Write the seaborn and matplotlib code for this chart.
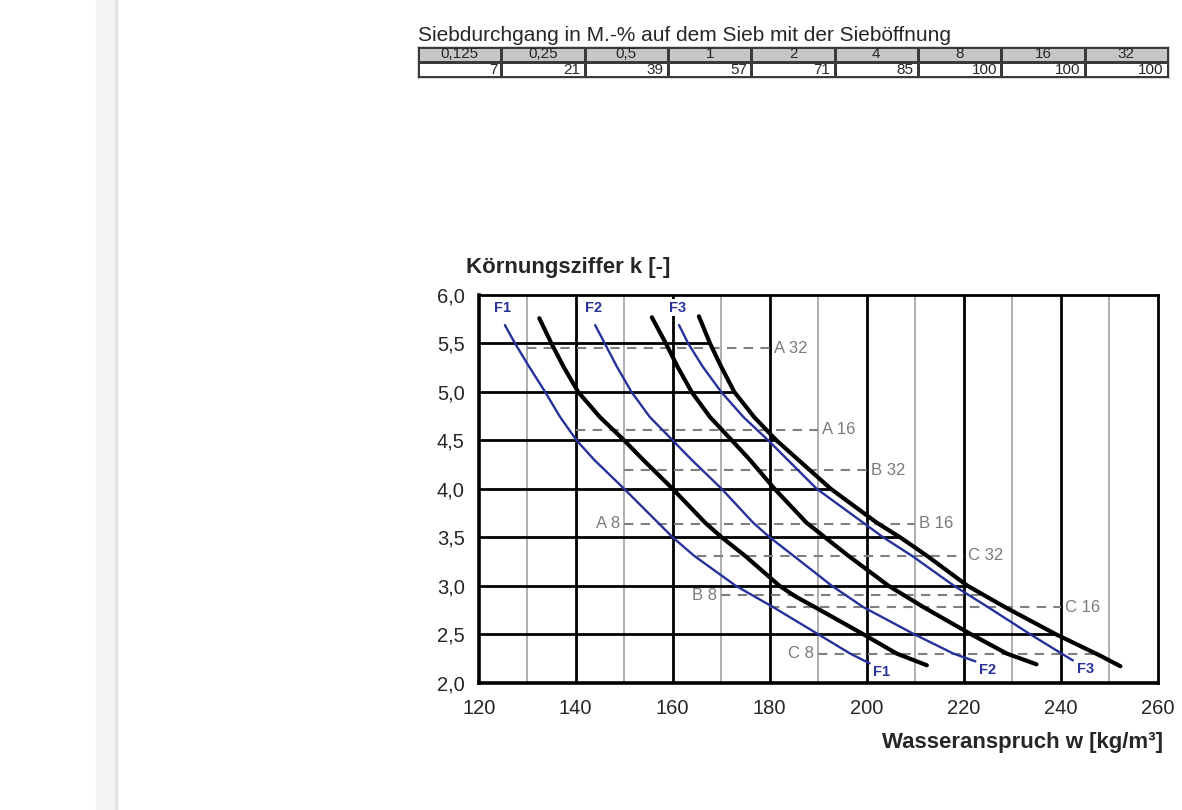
import numpy as np
import pandas as pd
import matplotlib
matplotlib.use("Agg")
import matplotlib.pyplot as plt
from matplotlib.colors import ListedColormap
from matplotlib.patches import Rectangle
from matplotlib.ticker import FuncFormatter
import seaborn as sns

# sieve table
sieve_sizes = ["0,125", "0,25", "0,5", "1", "2", "4", "8", "16", "32"]
passing = [7, 21, 39, 57, 71, 85, 100, 100, 100]

# water demand w [kg/m3] vs fineness modulus k
f1_w = [125.4, 127.5, 130.4, 133.7, 136.8, 140.2, 143.8, 150.0, 152.8, 160.0, 164.4, 173.0, 180.7, 190.0, 196.6, 200.6]
f1_k = [5.69, 5.5, 5.26, 5.0, 4.74, 4.5, 4.3, 4.0, 3.86, 3.5, 3.31, 3.0, 2.78, 2.5, 2.3, 2.2]
f2_w = [144.0, 146.0, 148.5, 151.5, 155.3, 160.0, 163.9, 170.1, 176.6, 180.0, 184.9, 192.8, 199.3, 209.8, 217.9, 222.4]
f2_k = [5.69, 5.5, 5.26, 5.0, 4.74, 4.5, 4.3, 4.0, 3.65, 3.5, 3.31, 3.0, 2.78, 2.5, 2.3, 2.22]
f3_w = [161.3, 163.2, 166.2, 170.0, 174.6, 179.7, 189.7, 199.3, 203.4, 209.3, 218.0, 225.0, 233.7, 240.2, 242.5]
f3_k = [5.69, 5.5, 5.26, 5.0, 4.74, 4.5, 4.0, 3.65, 3.5, 3.31, 3.0, 2.78, 2.5, 2.3, 2.23]

b1_w = [132.5, 135.0, 137.5, 140.5, 145.0, 150.0, 153.9, 160.0, 166.7, 170.1, 174.9, 182.0, 185.3, 189.3, 199.3, 206.2, 212.4]
b1_k = [5.76, 5.5, 5.26, 5.0, 4.74, 4.5, 4.3, 4.0, 3.65, 3.5, 3.31, 3.0, 2.89, 2.78, 2.5, 2.3, 2.18]
b2_w = [155.7, 158.6, 161.0, 163.9, 167.7, 172.2, 175.9, 181.0, 187.6, 191.4, 196.2, 204.5, 211.7, 221.5, 228.9, 235.0]
b2_k = [5.77, 5.5, 5.26, 5.0, 4.74, 4.5, 4.3, 4.0, 3.65, 3.5, 3.31, 3.0, 2.78, 2.5, 2.3, 2.19]
b3_w = [165.4, 167.7, 170.0, 172.7, 176.8, 181.4, 192.6, 202.1, 206.9, 212.4, 220.8, 228.5, 239.0, 248.1, 252.3]
b3_k = [5.78, 5.5, 5.26, 5.0, 4.74, 4.5, 4.0, 3.65, 3.5, 3.31, 3.0, 2.78, 2.5, 2.28, 2.17]

# grading reference lines (dashed)
ref_k = [5.45, 4.61, 4.19, 3.64, 3.31, 2.90, 2.78, 2.30]
ref_start = [130, 140, 150, 150, 165, 170, 180, 190]
ref_end = [180, 190, 200, 210, 220, 224, 240, 247]
ref_left = ["", "", "", "A 8", "", "B 8", "", "C 8"]
ref_right = ["A 32", "A 16", "B 32", "B 16", "C 32", "", "C 16", ""]

BLUE = "#26329a"
GRAY = "#7a7a7a"

blue_df = pd.concat([
    pd.DataFrame({"w": f1_w, "k": f1_k, "curve": "F1"}),
    pd.DataFrame({"w": f2_w, "k": f2_k, "curve": "F2"}),
    pd.DataFrame({"w": f3_w, "k": f3_k, "curve": "F3"}),
])
black_df = pd.concat([
    pd.DataFrame({"w": b1_w, "k": b1_k, "curve": "1"}),
    pd.DataFrame({"w": b2_w, "k": b2_k, "curve": "2"}),
    pd.DataFrame({"w": b3_w, "k": b3_k, "curve": "3"}),
])

sns.set_style("white")
plt.rcParams["font.family"] = ["Liberation Sans", "DejaVu Sans"]

fig = plt.figure(figsize=(11.82, 8.10), dpi=100)
fig.patches.append(Rectangle((96 / 1182, 0), 19 / 1182, 1, transform=fig.transFigure,
                             color="#f4f4f4", zorder=0))
fig.patches.append(Rectangle((115 / 1182, 0), 2 / 1182, 1, transform=fig.transFigure,
                             color="#e2e2e2", zorder=0))

# ---- table on top ----
fig.text(418 / 1182, 1 - 35.5 / 810, "Siebdurchgang in M.-% auf dem Sieb mit der Sieböffnung",
         fontsize=15, ha="left", va="center")
tab_ax = fig.add_axes([418 / 1182, 1 - 77 / 810, 750 / 1182, 30 / 810])
cells = np.array([[1] * len(sieve_sizes), [0] * len(sieve_sizes)])
sns.heatmap(cells, cmap=ListedColormap(["white", "#c6c6c6"]), cbar=False,
            linewidths=0.8, linecolor="#3a3a3a", xticklabels=False, yticklabels=False,
            ax=tab_ax)
for s in tab_ax.spines.values():
    s.set_visible(True)
    s.set_linewidth(1.0)
    s.set_color("#3a3a3a")
tab_ax.axhline(1, color="#3a3a3a", lw=1.4)
for i, (lab, val) in enumerate(zip(sieve_sizes, passing)):
    tab_ax.text(i + 0.5, 0.5, lab, ha="center", va="center", fontsize=11)
    tab_ax.text(i + 0.95, 1.5, str(val), ha="right", va="center", fontsize=11)

# ---- nomogram ----
ax = fig.add_axes([478.7 / 1182, 1 - 682.7 / 810, 679 / 1182, 387.7 / 810])
ax.set_xlim(120, 260)
ax.set_ylim(2.0, 6.0)

for x in range(130, 260, 20):
    ax.axvline(x, color="#9a9a9a", lw=1.1, zorder=1)
for x in range(140, 260, 20):
    ax.axvline(x, color="black", lw=2.0, zorder=1)

# horizontal lines stop at the outermost black curve
outer_w = np.array(b3_w)[::-1]
outer_k = np.array(b3_k)[::-1]
for k in np.arange(2.5, 6.0, 0.5):
    ax.hlines(k, 120, np.interp(k, outer_k, outer_w), color="black", lw=2.0, zorder=1)

for k, x0, x1, ll, rl in zip(ref_k, ref_start, ref_end, ref_left, ref_right):
    ax.hlines(k, x0, x1, color="#808080", lw=1.5, linestyles=(0, (4.5, 3.5)), zorder=2)
    if ll:
        ax.text(x0 - 0.8, k, ll, ha="right", va="center", fontsize=12, color=GRAY)
    if rl:
        ax.text(x1 + 0.8, k, rl, ha="left", va="center", fontsize=12, color=GRAY)

sns.lineplot(data=black_df, x="w", y="k", units="curve", estimator=None, sort=False,
             color="black", lw=3.0, ax=ax, zorder=3)
sns.lineplot(data=blue_df, x="w", y="k", units="curve", estimator=None, sort=False,
             color=BLUE, lw=1.7, ax=ax, zorder=4)

for name, ws, ks in [("F1", f1_w, f1_k), ("F2", f2_w, f2_k), ("F3", f3_w, f3_k)]:
    ax.text(ws[0] - 0.4, 5.87, name, ha="center", va="center", fontsize=10.5,
            fontweight="bold", color=BLUE, zorder=5,
            bbox=dict(facecolor="white", edgecolor="none", pad=1.0))
    ax.text(ws[-1] + 0.8, ks[-1] - 0.09, name, ha="left", va="center", fontsize=10.5,
            fontweight="bold", color=BLUE, zorder=5)

ax.set_xticks(range(120, 261, 20))
ax.set_yticks(np.arange(2.0, 6.01, 0.5))
ax.yaxis.set_major_formatter(FuncFormatter(lambda v, p: f"{v:.1f}".replace(".", ",")))
ax.tick_params(direction="out", length=5, width=2, labelsize=14.5, color="black")
ax.tick_params(axis="y", pad=5)
ax.tick_params(axis="x", pad=7)
ax.set_xlabel("")
ax.set_ylabel("")
for side in ["left", "bottom"]:
    ax.spines[side].set_linewidth(2.6)
for side in ["top", "right"]:
    ax.spines[side].set_linewidth(2.0)
for s in ax.spines.values():
    s.set_color("black")
    s.set_zorder(6)

ax.text(-0.019, 1.07, "Körnungsziffer k [-]", transform=ax.transAxes, ha="left",
        va="center", fontsize=16, fontweight="bold")
ax.text(1.008, -0.155, "Wasseranspruch w [kg/m³]", transform=ax.transAxes, ha="right",
        va="center", fontsize=16, fontweight="bold")

fig.savefig("out.png", dpi=100)
